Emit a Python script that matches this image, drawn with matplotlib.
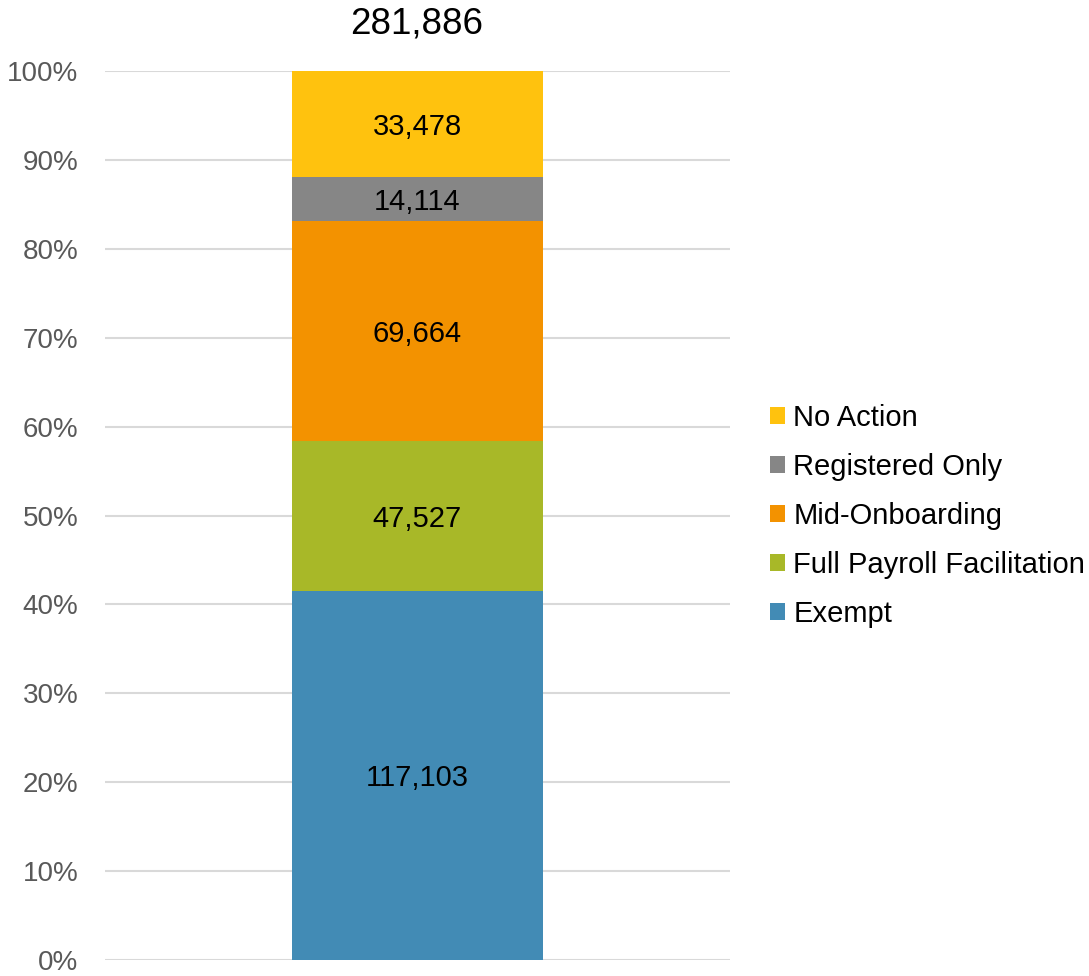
import numpy as np
import matplotlib
matplotlib.use('Agg')
import matplotlib.pyplot as plt
from matplotlib.ticker import PercentFormatter

plt.rcParams['font.family'] = ['Liberation Sans', 'DejaVu Sans']

# data (bottom to top)
categories = ['Exempt', 'Full Payroll Facilitation', 'Mid-Onboarding', 'Registered Only', 'No Action']
counts = [117103, 47527, 69664, 14114, 33478]
colors = ['#428BB5', '#A8B828', '#F39200', '#868686', '#FFC20E']

total = sum(counts)
shares = np.array(counts) / total * 100

fig = plt.figure(figsize=(10.89, 9.76), dpi=100)
ax = fig.add_axes([105/1089, 16/976, 625/1089, 889/976])

bottom = 0
for cat, val, sh, col in zip(categories, counts, shares, colors):
    ax.bar(0, sh, width=0.403, bottom=bottom, color=col, label=cat, zorder=3)
    ax.text(0, bottom + sh/2, f'{val:,}', ha='center', va='center_baseline', fontsize=21, color='black', zorder=4)
    bottom += sh

ax.set_xlim(-0.5, 0.5)
ax.set_ylim(0, 100)
ax.set_yticks(np.arange(0, 101, 10))
ax.yaxis.set_major_formatter(PercentFormatter(decimals=0))
ax.set_xticks([])
ax.tick_params(axis='y', length=0, pad=19, labelsize=20, labelcolor='#595959')
ax.grid(axis='y', color='#D9D9D9', linewidth=1.5, zorder=0)
for s in ax.spines.values():
    s.set_visible(False)

fig.text(417/1089, 1 - 24/976, f'{total:,}', ha='center', va='center', fontsize=26.5, color='black')

handles, labels = ax.get_legend_handles_labels()
leg = fig.legend(handles[::-1], labels[::-1], loc='center left', bbox_to_anchor=(770/1089, 1 - 516/976),
                 frameon=False, fontsize=21, handlelength=0.5, handleheight=0.5, handletextpad=0.3,
                 labelspacing=0.72, borderpad=0, borderaxespad=0)

fig.savefig('out.png', dpi=100)
